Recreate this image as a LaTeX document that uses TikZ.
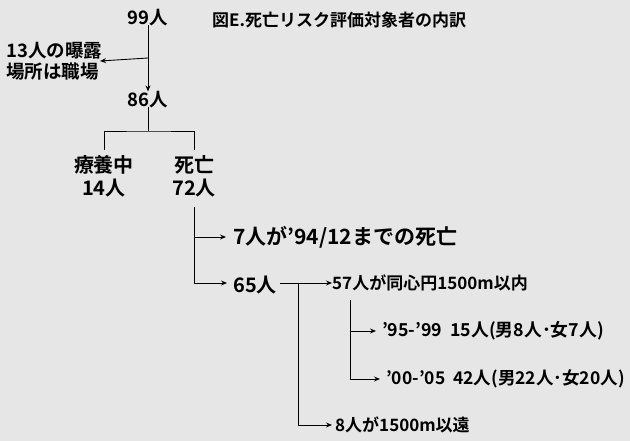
\documentclass[tikz,border=0pt]{standalone}
\usepackage{fontspec}
\setmainfont{Noto Sans CJK JP}[BoldFont={Noto Sans CJK JP Bold}]
\usetikzlibrary{arrows.meta,calc}
\definecolor{bgdot}{RGB}{230,230,230}
\tikzset{
  lbl/.style={inner sep=0pt, font=\bfseries\fontsize{17}{19}\selectfont},
  mid/.style={inner sep=0pt, font=\bfseries\fontsize{18.5}{21}\selectfont},
  big/.style={inner sep=0pt, font=\bfseries\fontsize{20}{23}\selectfont},
  ttl/.style={inner sep=0pt, font=\bfseries\fontsize{17}{19}\selectfont},
  ln/.style={draw=black, line width=0.9pt},
  arr/.style={ln, -{Stealth[length=6pt,width=5pt]}}
}
\begin{document}
\begin{tikzpicture}[x=1pt,y=-1pt]
\fill[bgdot] (0,0) rectangle (630,441);
\useasboundingbox (0,0) rectangle (630,441);

\node[mid] (n99) at (148,18) {99人};
\node[ttl, anchor=west] (title) at (212,20) {図E.死亡リスク評価対象者の内訳};
\node[mid, anchor=west, align=left] (n13) at (6,61) {13人の曝露\\場所は職場};
\node[mid] (n86) at (148,100) {86人};

\node[big, align=center] (ryo) at (104,176) {療養中\\14人};
\node[big, align=center] (shi) at (194,176) {死亡\\72人};

\node[big, anchor=west, font=\bfseries\fontsize{21}{23}\selectfont] (n7) at (233,237) {7人が’94/12までの死亡};
\node[big, anchor=west] (n65) at (233,285) {65人};
\node[lbl, anchor=west] (n57) at (332,283) {57人が同心円1500m以内};
\node[lbl, anchor=west, font=\bfseries\fontsize{17.8}{19}\selectfont] (n95) at (382,331) {’95-’99\ \ 15人(男8人･女7人)};
\node[lbl, anchor=west, font=\bfseries\fontsize{17.5}{19}\selectfont] (n00) at (386,379) {’00-’05\ \ 42人(男22人･女20人)};
\node[lbl, anchor=west] (n8) at (335,425) {8人が1500m以遠};

% main trunk
\coordinate (b99) at (148,58);
\draw[arr] (n99.south) ++(0,-2) -- (n86.north);
\draw[arr] (b99) -- (n13.east -| 100,0);
% bracket
\coordinate (brk) at (148,131);
\draw[ln] (n86.south) ++(0,-2) -- (brk);
\draw[ln] ($(ryo.north)+(0,-5)$) |- (brk) -| ($(shi.north)+(0,-5)$);
% from 死亡
\coordinate (s0) at ($(shi.south)+(0,10)$);
\draw[arr] (s0) |- ($(n7.west)+(-7,0)$);
\draw[arr] (s0) |- ($(n65.west)+(-6,-2)$);
% 65 -> 57
\draw[arr] ($(n65.east)+(3,-2)$) -- (n57.west);
\coordinate (b65) at (298,283);
\draw[arr] (b65) |- ($(n8.west)+(-3,0)$);
% 57 subdivisions
\coordinate (v57) at (350,300);
\draw[arr] (v57) |- ($(n95.west)+(-6,0)$);
\draw[arr] (v57) |- ($(n00.west)+(-6,0)$);
\end{tikzpicture}
\end{document}
